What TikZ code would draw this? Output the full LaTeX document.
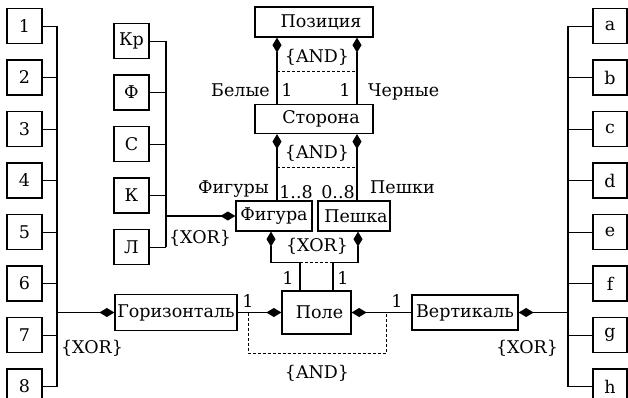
\documentclass[tikz,border=0pt]{standalone}
\usepackage{fontspec}
\setmainfont{DejaVu Serif}
\usetikzlibrary{arrows.meta}
\begin{document}
\begin{tikzpicture}[x=1pt,y=-1pt,
  every node/.style={font=\fontsize{17.5}{20}\selectfont},
  box/.style={draw, line width=1.2pt, inner sep=0pt, minimum width=35pt, minimum height=35pt},
  stub/.style={line width=0.9pt},
  bus/.style={line width=1.3pt},
  link/.style={line width=1.9pt},
  rel/.style={line width=1.1pt},
  dsh/.style={line width=0.7pt, dash pattern=on 3pt off 2pt},
  dia/.tip={Diamond[length=15pt,width=9pt]},
  lbl/.style={inner sep=0pt, anchor=base}
]
\useasboundingbox (0,0) rectangle (628,398);
\begin{scope}
\clip (0,0) rectangle (628,398);
% main boxes
\node[box, minimum width=118pt, minimum height=30pt] (pos) at (314,22) {\hspace*{14pt}Позиция};
\node[box, minimum width=118pt, minimum height=29pt] (side) at (314,119) {\hspace*{14pt}Сторона};
\node[box, minimum width=76pt, minimum height=30pt] (fig) at (274,216) {Фигура};
\node[box, minimum width=72pt, minimum height=30pt] (pawn) at (354,216) {\hspace*{4pt}Пешка};
\node[box, minimum width=69pt, minimum height=43pt] (field) at (316.5,312.5) {\hspace*{6pt}Поле};
\node[box, minimum width=122pt, minimum height=36pt] (hor) at (176,312.5) {Горизонталь};
\node[box, minimum width=106pt, minimum height=35pt] (ver) at (465,312.5) {Вертикаль};
% small boxes
\foreach \t [count=\i] in {1,2,3,4,5,6,7,8}
  {\node[box] (n\i) at (24.5,{26+51.5*(\i-1)}) {\t};}
\foreach \t [count=\i] in {a,b,c,d,e,f,g,h}
  {\node[box, minimum width=34pt] (r\i) at (610,{26+51.5*(\i-1)}) {\t};}
\foreach \t [count=\i] in {Кр,Ф,С,К,Л}
  {\node[box] (p\i) at (131.5,{41+51.5*(\i-1)}) {\t};}
% buses
\coordinate (lb) at (57,0);
\coordinate (pb) at (166,0);
\coordinate (rb) at (568,0);
\foreach \i in {1,...,8}
  {\draw[stub] (n\i.east) -- (n\i.east -| lb);
   \draw[stub] (r\i.west) -- (r\i.west -| rb);}
\foreach \i in {1,...,5}
  {\draw[stub] (p\i.east) -- (p\i.east -| pb);}
\draw[bus] (n1.east -| lb) -- (n8.east -| lb);
\draw[bus] (r1.west -| rb) -- (r8.west -| rb);
\draw[bus] (p1.east -| pb) -- (p5.east -| pb);
\draw[link,-dia] (hor.west -| lb) -- (hor.west);
\draw[link,-dia] (fig.west -| pb) -- (fig.west);
\draw[link,-dia] (ver.east -| rb) -- (ver.east);
% relations
\draw[rel,dia-] ([xshift=-37pt]pos.south) -- ([xshift=-37pt]side.north);
\draw[rel,dia-] ([xshift=43pt]pos.south) -- ([xshift=43pt]side.north);
\draw[rel,dia-] ([xshift=-37pt]side.south) -- ([xshift=3pt]fig.north);
\draw[rel,dia-] ([xshift=43pt]side.south) -- ([xshift=3pt]pawn.north);
\draw[rel,dia-] ([xshift=-3pt]fig.south) -- ++(0,31) -| ([xshift=-16.5pt]field.north);
\draw[rel,dia-] ([xshift=4pt]pawn.south) -- ++(0,31) -| ([xshift=16.5pt]field.north);
\draw[rel,-dia] (hor.east) -- (field.west);
\draw[rel,-dia] (ver.west) -- (field.east);
% dashed constraints
\draw[dsh] (277,71) -- (357,71);
\draw[dsh] (277,167) -- (357,167);
\draw[dsh] (300,262) -- (333,262);
\draw[dsh] (248,312.5) -- (248,353) -- (386,353) -- (386,312.5);
% labels
\node[lbl, anchor=base east] (wh) at (270,97) {Белые};
\node[lbl] (w1) at (287,97) {1};
\node[lbl] (bk1) at (345,97) {1};
\node[lbl, anchor=base west] (bk) at (368,97) {Черные};
\node[lbl] (and1) at (317,63) {\{AND\}};
\node[lbl] (and2) at (317,159) {\{AND\}};
\node[lbl, anchor=base east] (fg) at (269,193) {Фигуры};
\node[lbl] (m1) at (296,198) {1..8};
\node[lbl] (m2) at (338,198) {0..8};
\node[lbl, anchor=base west] (pw) at (370,193) {Пешки};
\node[lbl] (xor1) at (317,251) {\{XOR\}};
\node[lbl] (xor2) at (200,243) {\{XOR\}};
\node[lbl] (f1) at (288,284) {1};
\node[lbl] (f2) at (343,284) {1};
\node[lbl] (h1) at (248,307) {1};
\node[lbl] (v1) at (397,307) {1};
\node[lbl] (and3) at (317,378) {\{AND\}};
\node[lbl] (xor3) at (92,353) {\{XOR\}};
\node[lbl] (xor4) at (527,353) {\{XOR\}};
\end{scope}
\end{tikzpicture}
\end{document}
